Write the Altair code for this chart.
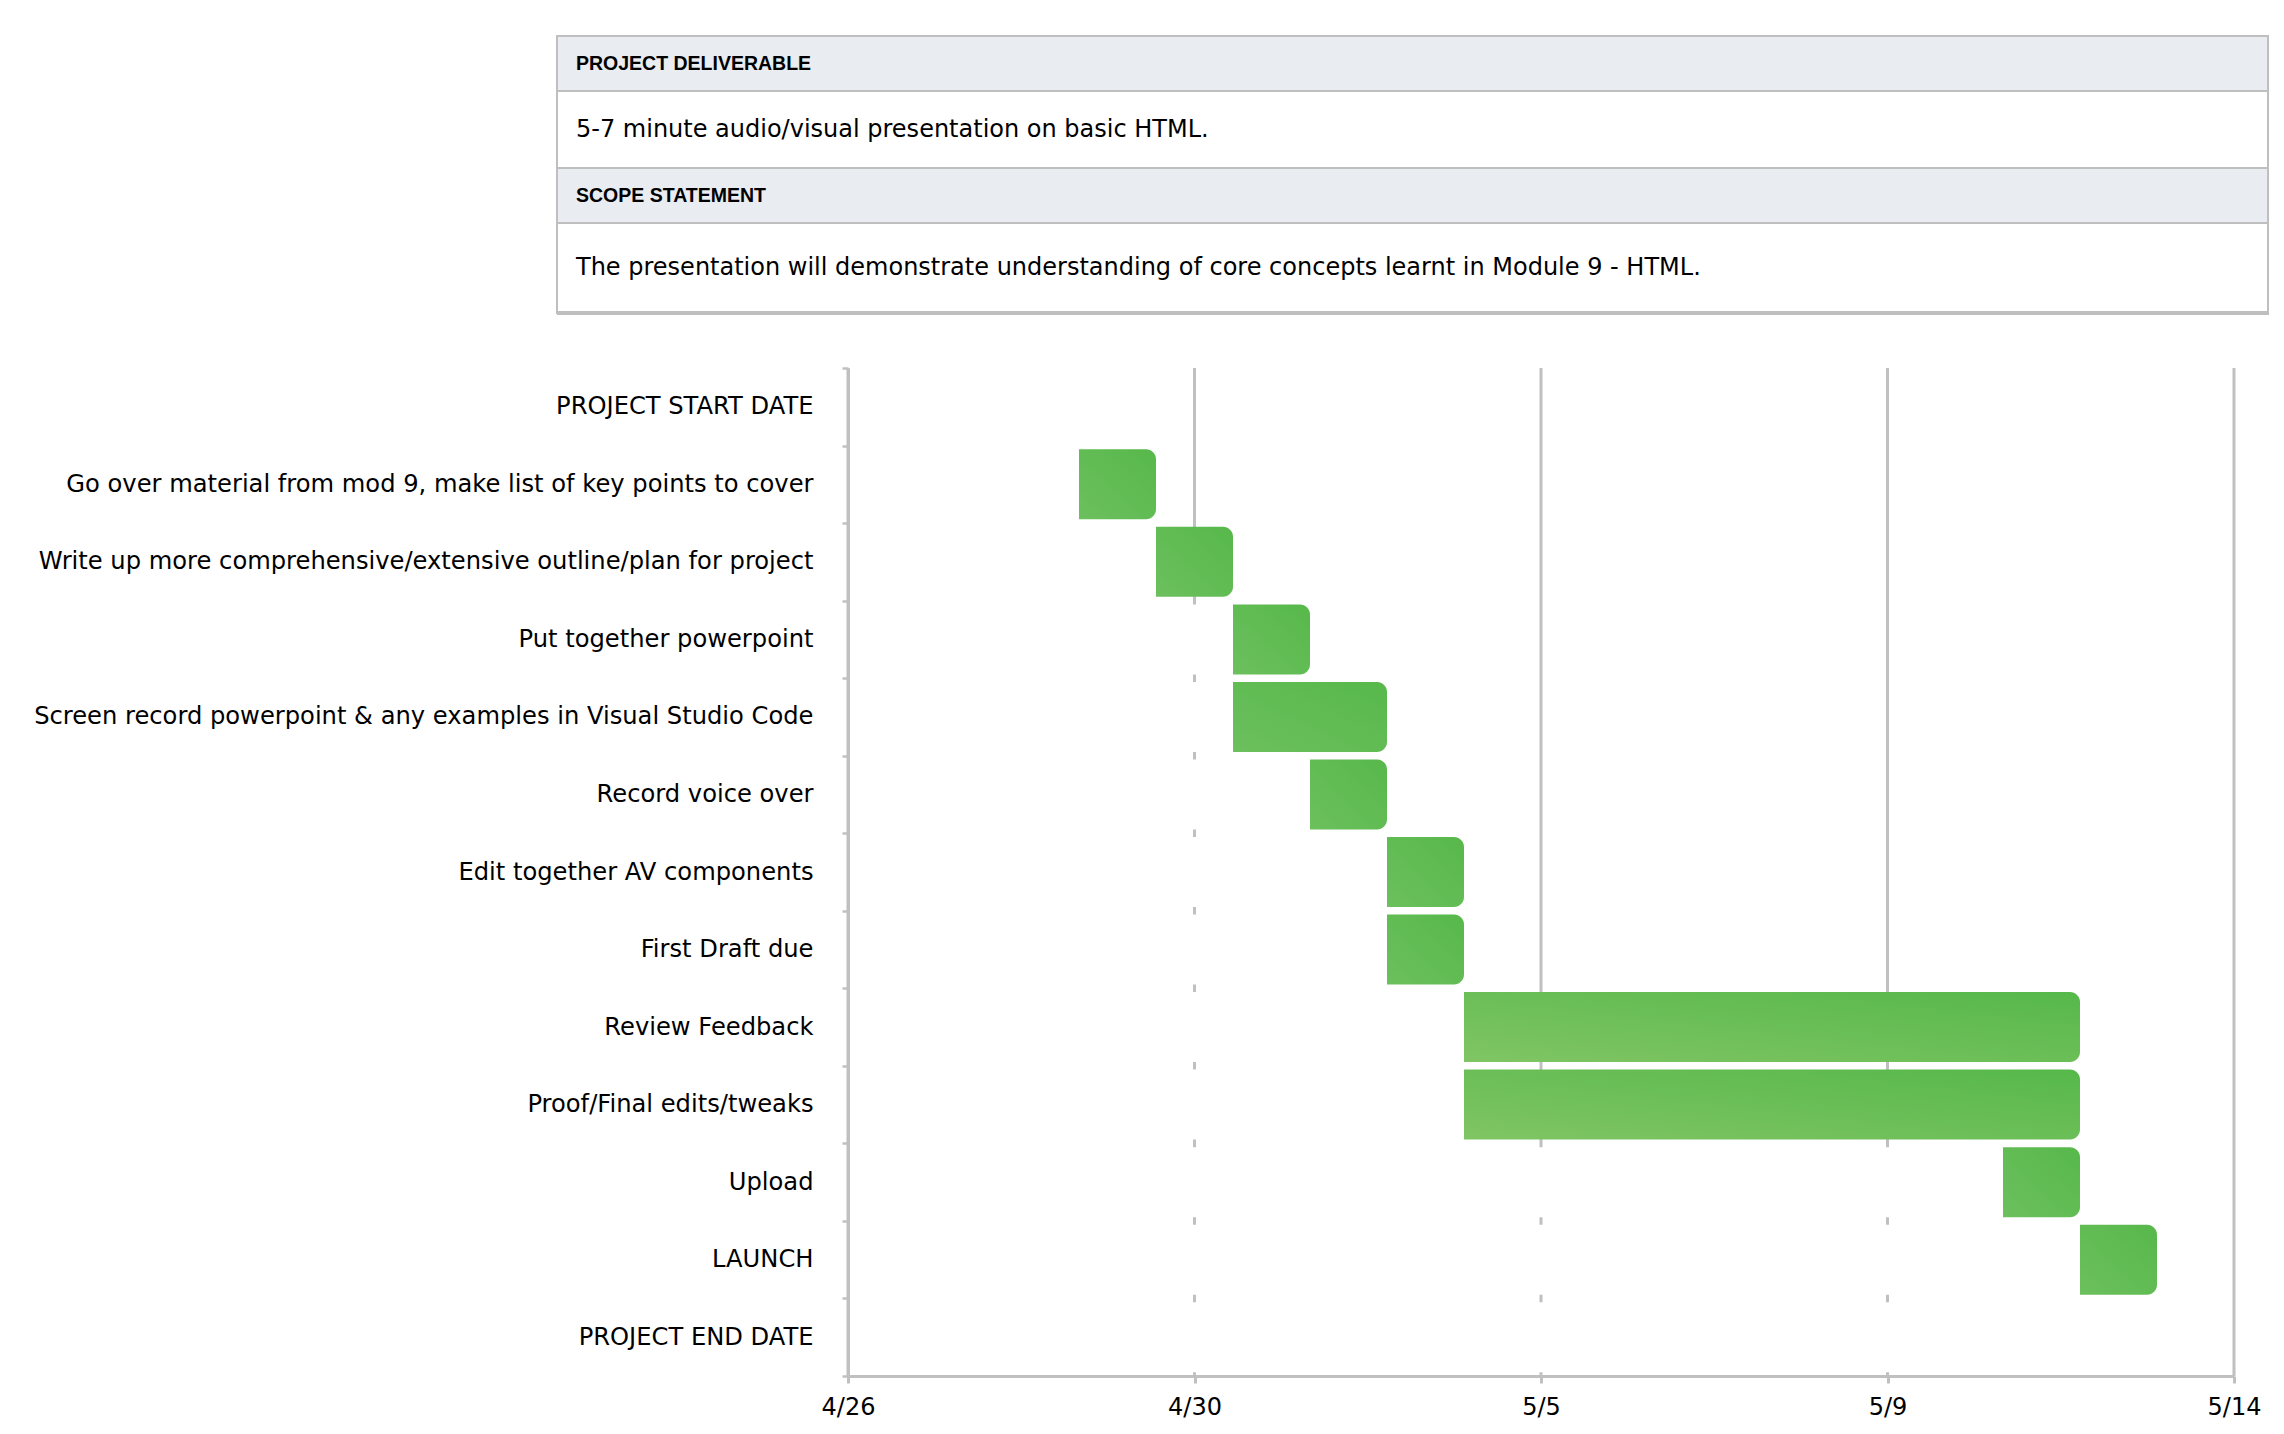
import altair as alt
import pandas as pd

# ---- task schedule -------------------------------------------------------
tasks = [
    "PROJECT START DATE",
    "Go over material from mod 9, make list of key points to cover",
    "Write up more comprehensive/extensive outline/plan for project",
    "Put together powerpoint",
    "Screen record powerpoint & any examples in Visual Studio Code",
    "Record voice over",
    "Edit together AV components",
    "First Draft due",
    "Review Feedback",
    "Proof/Final edits/tweaks",
    "Upload",
    "LAUNCH",
    "PROJECT END DATE",
]
start_dates = [
    "2022-04-26", "2022-04-29", "2022-04-30", "2022-05-01", "2022-05-01",
    "2022-05-02", "2022-05-03", "2022-05-03", "2022-05-04", "2022-05-04",
    "2022-05-11", "2022-05-12", "2022-05-13",
]
end_dates = [
    "2022-04-26", "2022-04-30", "2022-05-01", "2022-05-02", "2022-05-03",
    "2022-05-03", "2022-05-04", "2022-05-04", "2022-05-12", "2022-05-12",
    "2022-05-12", "2022-05-13", "2022-05-13",
]
# axis ticks every 4.5 days (labels show the date part only)
tick_dates = [
    "2022-04-26T00:00:00Z", "2022-04-30T12:00:00Z", "2022-05-05T00:00:00Z",
    "2022-05-09T12:00:00Z", "2022-05-14T00:00:00Z",
]

# ---- project summary table ---------------------------------------------
deliverable_title = "PROJECT DELIVERABLE"
deliverable_text = "5-7 minute audio/visual presentation on basic HTML."
scope_title = "SCOPE STATEMENT"
scope_text = "The presentation will demonstrate understanding of core concepts learnt in Module 9 - HTML."

FONT = "DejaVu Sans"
HEAD_FONT = "Liberation Sans"
GRID = "#c0c0c0"
BORDER = "#bfbfbf"
HEADER_FILL = "#e9ecf1"

df = pd.DataFrame({"task": tasks, "start": [d + "T00:00:00Z" for d in start_dates],
                   "end": [d + "T00:00:00Z" for d in end_dates]})
df["origin"] = df["start"].iloc[0]
df["days"] = (pd.to_datetime(df["end"]) - pd.to_datetime(df["start"])).dt.days

ticks_df = pd.DataFrame({"tick": tick_dates})


def dt(s):
    ts = pd.Timestamp(s)
    return alt.DateTime(year=ts.year, month=ts.month, date=ts.day, hours=ts.hour, utc=True)


x_scale = alt.Scale(type="utc", domain=[dt(tick_dates[0]), dt(tick_dates[-1])], nice=False)
x_axis = alt.Axis(
    title=None, values=[dt(t) for t in tick_dates],
    labelExpr="utcFormat(datum.value, '%-m/%-d')", labelFlush=False,
    grid=False, domainColor=GRID, domainWidth=3, tickColor=GRID, tickWidth=3, tickSize=7,
    labelFont=FONT, labelFontSize=24, labelColor="black", labelPadding=12, zindex=1,
)


def xenc(field):
    return alt.X(field, type="temporal", scale=x_scale, axis=x_axis)


y_enc = alt.Y(
    "task:N", sort=tasks, scale=alt.Scale(paddingInner=0, paddingOuter=0),
    axis=alt.Axis(
        title=None, tickBand="extent", domainColor=GRID, domainWidth=3, tickColor=GRID,
        tickWidth=2.5, tickSize=6, labelFont=FONT, labelFontSize=24.2, labelColor="black",
        labelPadding=29, labelLimit=1200, zindex=1,
    ),
)

# vertical gridlines at the tick dates
grid = alt.Chart(ticks_df).mark_rule(color=GRID, strokeWidth=3).encode(x=xenc("tick"))

# white offset bars (hide gridlines up to each task's start)
offset = alt.Chart(df).mark_bar(color="white", size=70).encode(
    x=xenc("origin"), x2="start:T", y=y_enc
)

short_grad = alt.Gradient(
    gradient="linear", x1=0, y1=1, x2=1, y2=0,
    stops=[alt.GradientStop(offset=0, color="#6cc05d"), alt.GradientStop(offset=1, color="#57b84b")],
)
long_grad = alt.Gradient(
    gradient="linear", x1=0, y1=1, x2=1, y2=0,
    stops=[alt.GradientStop(offset=0, color="#80c564"), alt.GradientStop(offset=1, color="#56b84a")],
)

bar_style = dict(size=70, cornerRadiusTopRight=10, cornerRadiusBottomRight=10)

short_bars = alt.Chart(df).transform_filter("datum.days > 0 && datum.days <= 2").mark_bar(
    color=short_grad, **bar_style
).encode(x=xenc("start"), x2="end:T", y=y_enc)

long_bars = alt.Chart(df).transform_filter("datum.days > 2").mark_bar(
    color=long_grad, **bar_style
).encode(x=xenc("start"), x2="end:T", y=y_enc)


# ---- summary table drawn above the plot ---------------------------------
def one_row(text):
    return alt.Data(values=[{"text": text}])


TX0, TX1 = -291, 1420
row_edges = [-332, -277, -200, -145, -55]
row_texts = [deliverable_title, deliverable_text, scope_title, scope_text]
row_fill = [HEADER_FILL, "white", HEADER_FILL, "white"]
row_bold = [True, False, True, False]

table_layers = []
for i, text in enumerate(row_texts):
    table_layers.append(
        alt.Chart(one_row(text)).mark_rect(fill=row_fill[i], stroke=BORDER, strokeWidth=2).encode(
            x=alt.value(TX0), x2=alt.value(TX1), y=alt.value(row_edges[i]), y2=alt.value(row_edges[i + 1])
        )
    )
for i, text in enumerate(row_texts):
    bold = row_bold[i]
    table_layers.append(
        alt.Chart(one_row(text)).mark_text(
            align="left", baseline="middle", color="black",
            font=HEAD_FONT if bold else FONT,
            fontSize=19.5 if bold else 24, fontWeight="bold" if bold else "normal",
        ).encode(
            x=alt.value(TX0 + 19), y=alt.value((row_edges[i] + row_edges[i + 1]) / 2), text="text:N"
        )
    )
# heavier bottom edge of the table
table_layers.append(
    alt.Chart(one_row("")).mark_rect(fill=BORDER).encode(
        x=alt.value(TX0), x2=alt.value(TX1 + 1), y=alt.value(row_edges[-1] - 2), y2=alt.value(row_edges[-1] + 2)
    )
)

chart = alt.layer(grid, offset, short_bars, long_bars, *table_layers).properties(
    width=1386,
    height=1008,
    autosize=alt.AutoSizeParams(type="none"),
    padding={"left": 848, "top": 368, "right": 50, "bottom": 58},
    background="white",
).configure_view(strokeWidth=0)

chart.save("out.html", embed_options={"renderer": "svg", "actions": False})
